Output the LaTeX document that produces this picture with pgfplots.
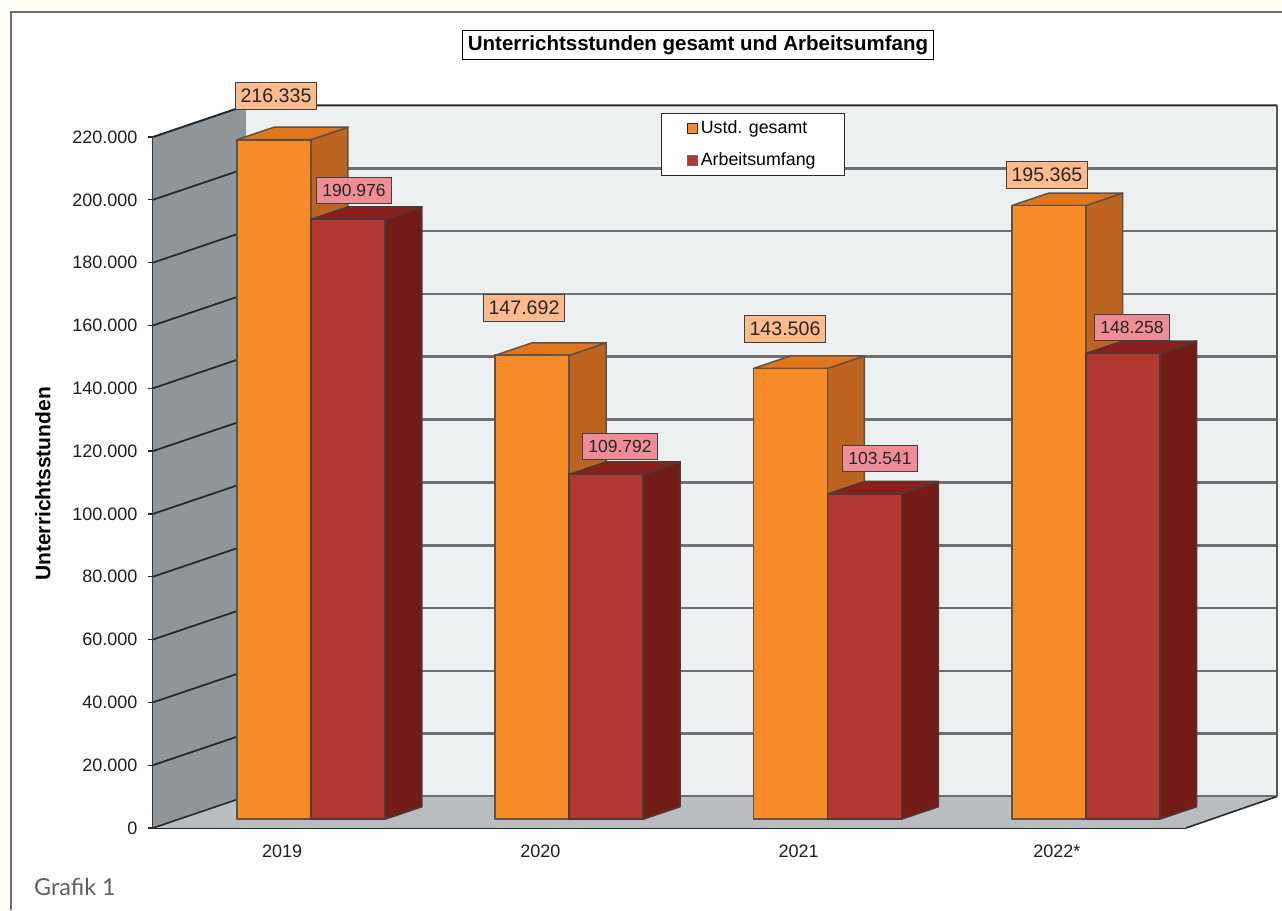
\documentclass[border=0pt]{standalone}
\usepackage{fontspec}
\setmainfont{Liberation Sans}
\newfontfamily\captionfont{Lato}
\usepackage{pgfplots}
\usepackage{pgfplotstable}
\pgfplotsset{compat=1.18}

\definecolor{paper}{HTML}{FFFDF4}
\definecolor{framegray}{HTML}{6E6E6E}
\definecolor{sidewall}{HTML}{90959A}
\definecolor{backwall}{HTML}{EDF0F1}
\definecolor{floorgray}{HTML}{B9BDC0}
\definecolor{gridgray}{HTML}{6C7072}
\definecolor{edgedark}{HTML}{2A2A2A}
\definecolor{orfront}{HTML}{F68B28}
\definecolor{ortop}{HTML}{E0761C}
\definecolor{orside}{HTML}{BC6420}
\definecolor{orline}{HTML}{5F5145}
\definecolor{rdfront}{HTML}{B23931}
\definecolor{rdtop}{HTML}{8A1F1B}
\definecolor{rdside}{HTML}{731C17}
\definecolor{rdline}{HTML}{4A3A38}
\definecolor{labelpeach}{HTML}{FDBB8D}
\definecolor{labelpink}{HTML}{F08C96}

\pgfkeys{/pgf/number format/.cd,fixed,precision=0,1000 sep={.},assume math mode=true}

% teaching hours per year: bar values and where their value tags sit
\pgfplotstableread{
slot ustd   arbeit ux      uy     ax     ay
0    216335 190976 -0.0237 233120 0.2783 202866
1    147692 109792 0.9366  165604 1.3083 121337
2    143506 103541 1.9473  158917 2.3151 117515
3    195365 148258 2.9618  207961 3.2909 159235
}\stunden

% oblique projection of the bars
\def\barwidth{0.2865}
\def\bardepthx{0.1433}
\def\bardepthy{3980}
\def\barbase{2800}
% room depth of the walls and floor
\def\roomx{0.3601}
\def\roomy{10032}

% #1 left edge, #2 value, #3 front, #4 top, #5 side, #6 edge colour
\newcommand\quader[6]{%
  \pgfmathsetmacro\xa{#1}%
  \pgfmathsetmacro\xb{#1+\barwidth}%
  \pgfmathsetmacro\xc{\xb+\bardepthx}%
  \pgfmathsetmacro\xd{\xa+\bardepthx}%
  \edef\ya{\the\numexpr\barbase\relax}%
  \edef\yb{\the\numexpr\barbase+#2\relax}%
  \edef\yc{\the\numexpr\barbase+#2+\bardepthy\relax}%
  \edef\yd{\the\numexpr\barbase+\bardepthy\relax}%
  \edef\next{%
    \noexpand\addplot[forget plot,fill=#5,draw=#6,line width=1.5pt,line join=round] coordinates {(\xb,\ya) (\xc,\yd) (\xc,\yc) (\xb,\yb)} --cycle;
    \noexpand\addplot[forget plot,fill=#4,draw=#6,line width=1.5pt,line join=round] coordinates {(\xa,\yb) (\xb,\yb) (\xc,\yc) (\xd,\yc)} --cycle;
    \noexpand\addplot[forget plot,fill=#3,draw=#6,line width=1.8pt,line join=round] coordinates {(\xa,\ya) (\xb,\ya) (\xb,\yb) (\xa,\yb)} --cycle;
  }\next
}

\begin{document}
\begin{tikzpicture}[x=1pt,y=1pt]
  \useasboundingbox (0,0) rectangle (1282,910);
  \fill[paper] (0,0) rectangle (1282,910);
  \fill[white] (11,0) rectangle (1282,898);
  \draw[framegray,line width=1.2pt] (11,0) -- (11,898) -- (1282,898);
  \node[anchor=base west,text=black!62,font=\captionfont\fontsize{23.4}{26}\selectfont,inner sep=0pt] at (34,14) {Grafik 1};
  \begin{axis}[
    at={(153pt,82pt)},anchor=south west,
    scale only axis,width=1033pt,height=691pt,
    xmin=-0.5,xmax=3.5,ymin=0,ymax=220000,
    clip=false,
    axis x line*=bottom,axis y line*=left,
    axis line style={-,line width=1.8pt,color=edgedark},
    xtick={0,1,2,3},
    xticklabels={2019,2020,2021,2022*},
    ytick={0,20000,40000,60000,80000,100000,120000,140000,160000,180000,200000,220000},
    scaled y ticks=false,
    tick label style={font=\fontsize{18}{20}\selectfont,text=black!88},
    yticklabel style={xshift=-7pt,/pgf/number format/.cd,fixed,precision=0,1000 sep={.},assume math mode=true},
    xticklabel style={yshift=-8pt},
    xtick style={draw=none},
    ytick style={line width=1.2pt,color=edgedark},
    tick align=outside,
    major tick length=5pt,
    ylabel={Unterrichtsstunden},
    ylabel style={at={(axis description cs:-0.1065,0.498)},anchor=center,font=\bfseries\fontsize{21}{24}\selectfont},
    title={Unterrichtsstunden gesamt und Arbeitsumfang},
    title style={at={(axis description cs:0.5276,1.1245)},anchor=center,draw=black,line width=0.9pt,fill=white,
      font=\bfseries\fontsize{20.5}{22}\selectfont,inner xsep=5pt,minimum height=29pt,inner ysep=0pt},
    legend style={at={(axis description cs:0.4918,1.0347)},anchor=north west,draw=edgedark,line width=1pt,fill=white,
      font=\fontsize{17.8}{20}\selectfont,inner xsep=25.5pt,inner ysep=7pt,row sep=16pt,
      nodes={inner ysep=0pt,inner xsep=3pt,text depth=3pt,text height=13pt}},
    legend cell align=left,
  ]
    % legend keys
    \addlegendimage{only marks,mark=square*,mark size=5.4pt,mark options={fill=orfront,draw=edgedark,line width=0.9pt}}
    \addlegendentry{Ustd. gesamt}
    \addlegendimage{only marks,mark=square*,mark size=5.4pt,mark options={fill=rdfront,draw=black!60,line width=0.9pt}}
    \addlegendentry{Arbeitsumfang}

    % back wall, floor and side wall
    \addplot[forget plot,fill=backwall,draw=none] coordinates {(-0.1399,10032) (3.8529,10032) (3.8529,230032) (-0.1399,230032)} --cycle;
    \addplot[forget plot,fill=floorgray,draw=none] coordinates {(-0.5,0) (3.5,0) (3.8529,10032) (-0.1399,10032)} --cycle;
    \addplot[forget plot,fill=sidewall,draw=none] coordinates {(-0.5,0) (-0.1399,10032) (-0.1399,230032) (-0.5,220000)} --cycle;

    % grid lines on the back wall and their run down the side wall
    \pgfplotsforeachungrouped \g in {20000,40000,60000,80000,100000,120000,140000,160000,180000,200000}{%
      \edef\gb{\the\numexpr\g+\roomy\relax}%
      \edef\next{%
        \noexpand\addplot[forget plot,draw=gridgray,line width=2.6pt] coordinates {(-0.1399,\gb) (3.8529,\gb)};
        \noexpand\addplot[forget plot,draw=edgedark,line width=1.8pt] coordinates {(-0.5,\g) (-0.1399,\gb)};
      }\next
    }
    % room outline
    \addplot[forget plot,draw=edgedark,line width=2pt] coordinates {(-0.5,220000) (-0.1399,230032) (3.8529,230032)};
    \addplot[forget plot,draw=gridgray!80!black,line width=2pt] coordinates {(3.8529,230032) (3.8529,10032)};
    \addplot[forget plot,draw=gridgray,line width=2pt] coordinates {(-0.1399,10032) (3.8529,10032)};
    \addplot[forget plot,draw=edgedark,line width=1.6pt] coordinates {(-0.5,0) (-0.1399,10032)};
    \addplot[forget plot,draw=edgedark,line width=1.6pt] coordinates {(3.5,0) (3.8529,10032)};

    % the bars, left to right, orange behind red
    \pgfplotsforeachungrouped \i in {0,1,2,3}{%
      \pgfplotstablegetelem{\i}{ustd}\of\stunden \let\wu\pgfplotsretval
      \pgfplotstablegetelem{\i}{arbeit}\of\stunden \let\wa\pgfplotsretval
      \pgfmathsetmacro\xl{\i-0.1747}%
      \pgfmathsetmacro\xr{\i-0.1747+\barwidth}%
      \quader{\xl}{\wu}{orfront}{ortop}{orside}{orline}%
      \quader{\xr}{\wa}{rdfront}{rdtop}{rdside}{rdline}%
    }

    % value tags
    \pgfplotsforeachungrouped \i in {0,1,2,3}{%
      \pgfplotstablegetelem{\i}{ustd}\of\stunden \let\wu\pgfplotsretval
      \pgfplotstablegetelem{\i}{arbeit}\of\stunden \let\wa\pgfplotsretval
      \pgfplotstablegetelem{\i}{ux}\of\stunden \let\pux\pgfplotsretval
      \pgfplotstablegetelem{\i}{uy}\of\stunden \let\puy\pgfplotsretval
      \pgfplotstablegetelem{\i}{ax}\of\stunden \let\pax\pgfplotsretval
      \pgfplotstablegetelem{\i}{ay}\of\stunden \let\pay\pgfplotsretval
      \edef\next{%
        \noexpand\node[draw=black!75,line width=0.9pt,fill=labelpeach,text=black!85,inner xsep=5.5pt,inner ysep=0pt,minimum height=27pt,font=\noexpand\fontsize{19.6}{22}\noexpand\selectfont] at (axis cs:\pux,\puy) {\noexpand\pgfmathprintnumber{\wu}};
        \noexpand\node[draw=black!75,line width=0.9pt,fill=labelpink,text=black!85,inner xsep=6pt,inner ysep=0pt,minimum height=26pt,font=\noexpand\fontsize{17.5}{20}\noexpand\selectfont] at (axis cs:\pax,\pay) {\noexpand\pgfmathprintnumber{\wa}};
      }\next
    }
  \end{axis}
\end{tikzpicture}
\end{document}
